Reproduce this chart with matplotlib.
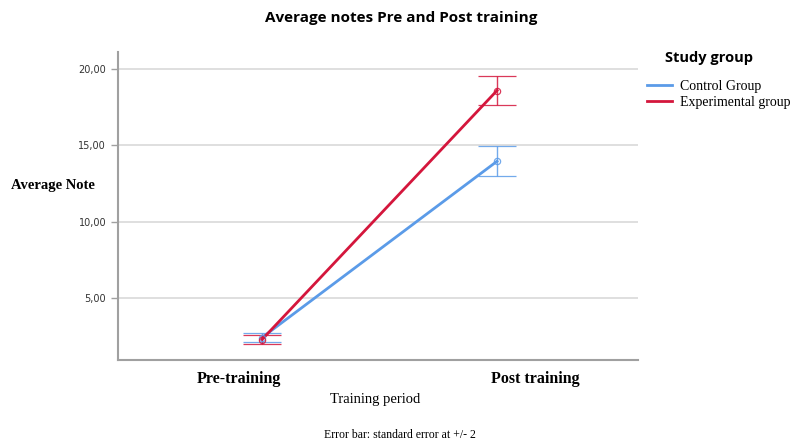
import matplotlib
matplotlib.use("Agg")
import matplotlib.pyplot as plt
import numpy as np

periods = ["Pre-training", "Post training"]
groups = ["Control Group", "Experimental group"]
means_control = [2.42, 13.95]
err_control = [0.30, 0.98]
means_exp = [2.29, 18.58]
err_exp = [0.30, 0.98]
yticks = [5, 10, 15, 20]
ytick_labels = ["5,00", "10,00", "15,00", "20,00"]
colors = ["#5b9be8", "#d4163c"]

fig = plt.figure(figsize=(7.97, 4.41), dpi=100)
ax = fig.add_axes([118/797, 1-360/441, 520/797, 308/441])
x = np.arange(len(periods))

for means, errs, col, lab in [(means_control, err_control, colors[0], groups[0]),
                              (means_exp, err_exp, colors[1], groups[1])]:
    ax.plot(x, means, color=col, lw=2.0, label=lab, zorder=3)
    ax.errorbar(x, means, yerr=errs, fmt='o', mfc='none', mec=col, ms=4.5,
                ecolor=col, elinewidth=1.0, capsize=13.5, capthick=1.0, zorder=3,
                markeredgewidth=0.9, alpha=0.85)

ax.set_xlim(-0.613, 1.6)
ax.set_ylim(0.95, 21.1)
ax.set_yticks(yticks)
ax.set_yticklabels(ytick_labels, fontsize=7, color="#333333")
ax.yaxis.grid(True, color="#d9d9d9", lw=1.2)
ax.set_axisbelow(True)
for s in ["top", "right"]:
    ax.spines[s].set_visible(False)
for s in ["left", "bottom"]:
    ax.spines[s].set_color("#a0a0a0")
    ax.spines[s].set_linewidth(1.5)
ax.tick_params(axis='y', length=5, color="#a0a0a0", width=1)
ax.tick_params(axis='x', length=0)
ax.set_xticks(x)
ax.set_xticklabels([])

# category labels (offset from tick positions as in the reference)
label_px = [239, 535]
for lab, px in zip(periods, label_px):
    fig.text(px/797, 1-379/441, lab, fontsize=11.5, fontweight="bold",
             family="Liberation Serif", ha="center", va="center")

fig.text(375/797, 1-399/441, "Training period", fontsize=10.5,
         family="Liberation Serif", ha="center", va="center")
fig.text(95/797, 1-186/441, "Average Note", fontsize=10.5, fontweight="bold",
         family="Liberation Serif", ha="right", va="center")
fig.text(401/797, 1-18/441, "Average notes Pre and Post training", fontsize=11,
         fontweight="bold", ha="center", va="center", family="Open Sans")
fig.text(400/797, 1-435/441, "Error bar: standard error at +/- 2", fontsize=8.5,
         ha="center", va="center", family="Liberation Serif")

fig.text(665/797, 1-58/441, "Study group", fontsize=10.5, fontweight="bold",
         family="Open Sans", ha="left", va="center")
from matplotlib.lines import Line2D
handles = [Line2D([], [], color=c, lw=2.0) for c in colors]
leg = fig.legend(handles, groups, loc="upper left", bbox_to_anchor=(640/797, 1-73/441),
                 frameon=False, prop={"family": "Liberation Serif", "size": 10},
                 handlelength=1.8, handletextpad=0.6, labelspacing=0.2, borderpad=0)

fig.savefig("out.png", dpi=100)
